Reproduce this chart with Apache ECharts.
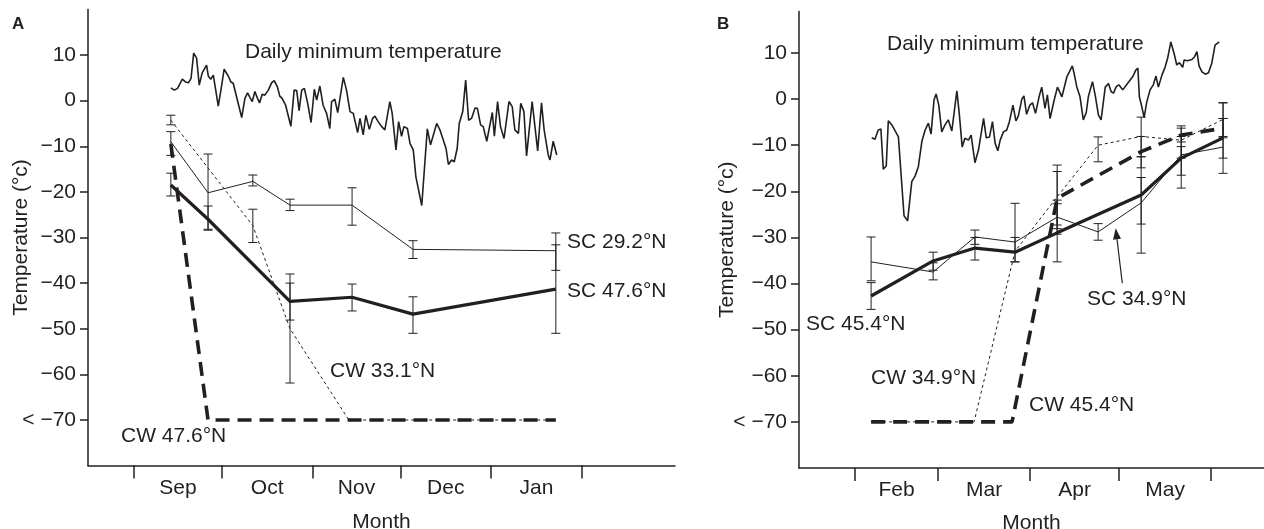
<!DOCTYPE html>
<html>
<head>
<meta charset="utf-8">
<title>Supercooling points</title>
<script src="https://cdn.jsdelivr.net/npm/echarts@6/dist/echarts.min.js"></script>
<style>
  html, body { margin: 0; padding: 0; background: #fff; }
  #chart { width: 1264px; height: 529px; }
</style>
</head>
<body>
<div id="chart"></div>
<script>
// x values are days counted from the first day of the first month on each panel
// panel A: day 0 = 1 Sep, panel B: day 0 = 1 Feb

// ---- panel A (autumn / winter) ----
const monthTicksA = [0, 30, 61, 91, 122, 153];
const monthMidA = [15, 45.5, 76, 106.5, 137.5];
const monthNamesA = ['Sep', 'Oct', 'Nov', 'Dec', 'Jan'];

const dailyMinA = [
  [12.6,2.8],[13.8,2.3],[14.9,2.7],[16.5,4.7],[17.6,4.1],[18.6,3.9],[19.5,4.9],[20.4,10.4],[21.4,9.3],
  [22.3,3.4],[23.3,6.1],[24.8,7.8],[25.4,5.4],[26.2,4.7],[27.1,5.6],[28.8,-1.2],[29.7,2.3],[30.8,6.9],
  [32.2,5.4],[33.1,4.1],[33.9,3.8],[36.8,-3.7],[37.9,0.5],[38.8,1.7],[39.6,0.7],[40.4,-0.2],[41.3,2.0],
  [42.2,0.5],[42.9,-0.5],[43.8,1.4],[44.7,1.2],[45.9,2.3],[47.0,3.9],[47.9,4.4],[49.0,3.0],[49.8,1.0],
  [50.6,0.5],[51.8,-1.0],[53.6,-5.6],[54.7,2.3],[55.6,2.2],[56.4,-2.2],[57.3,2.3],[58.2,2.7],[59.3,-0.5],
  [60.5,-4.8],[61.6,2.5],[62.4,0.1],[63.5,3.2],[64.6,-1.0],[65.8,-2.8],[66.9,-6.1],[67.5,-0.2],[68.6,0.3],
  [69.6,-2.6],[71.5,5.1],[72.6,2.3],[73.8,-2.4],[74.9,-2.8],[76.4,-7.0],[77.2,-3.9],[78.3,-7.5],[79.2,-3.2],
  [80.4,-6.3],[81.5,-3.9],[82.3,-3.4],[83.4,-4.6],[84.6,-5.7],[85.7,-6.4],[87.4,-0.2],[88.2,-2.8],[89.5,-10.8],
  [90.4,-4.6],[91.4,-7.8],[92.2,-5.7],[93.4,-6.1],[94.3,-9.4],[95.4,-10.8],[96.3,-16.7],[98.3,-23.0],[100.2,-6.2],
  [101.3,-9.7],[103.4,-5.0],[104.5,-6.4],[106.6,-10.5],[107.4,-14.0],[108.5,-13.0],[109.4,-13.4],[110.4,-10.5],
  [111.1,-5.0],[112.3,-2.4],[113.3,4.5],[114.3,-4.3],[115.3,-3.9],[116.5,-1.6],[117.3,-1.7],[118.4,-5.3],
  [119.3,-5.7],[120.5,-8.9],[122.4,-2.6],[123.1,-7.8],[124.2,-0.2],[125.2,-5.7],[126.4,-8.3],[128.1,-0.2],
  [129.2,-1.3],[130.1,-6.4],[131.3,-7.2],[132.1,-0.6],[133.2,-2.4],[134.1,-12.1],[136.0,-0.2],[137.9,-11.0],
  [139.2,-0.5],[140.1,-6.4],[141.5,-11.9],[142.1,-13.0],[143.2,-8.9],[144.4,-11.9]
];

const sampleDaysA = [12.6, 25.3, 40.6, 53.3, 74.5, 95.3, 144.1];
const sc29Temp = [-9.0, -20.2, -17.7, -22.9, -22.9, -32.6, -32.9];
const sc29Lo   = [-12.0, -28.4, -18.7, -24.1, -27.3, -34.6, -37.2];
const sc29Hi   = [-6.8, -11.7, -16.3, -21.6, -19.1, -30.7, -29.0];
const sc47Temp = [-18.5, -26.0, null, -44.0, -43.1, -46.8, -41.3];
const sc47Lo   = [-20.9, -28.2, null, -48.1, -46.1, -51.0, -51.0];
const sc47Hi   = [-15.9, -23.1, null, -40.0, -40.2, -43.0, -31.6];
const cw33Days = [12.6, 40.6, 53.3, 73.4, 144.1];
const cw33Temp = [-4.3, -27.4, -50.0, -70, -70];
const cw33Lo   = [-5.3, -31.1, -61.9, null, null];
const cw33Hi   = [-3.2, -23.8, -38.0, null, null];
const cw47Days = [12.6, 25.3, 144.1];
const cw47Temp = [-9.5, -70, -70];

// ---- panel B (spring) ----
const monthTicksB = [0, 28, 59, 89, 120];
const monthMidB = [14, 43.5, 74, 104.5];
const monthNamesB = ['Feb', 'Mar', 'Apr', 'May'];

const dailyMinB = [
  [5.6,-8.4],[6.7,-8.7],[7.8,-6.7],[8.7,-6.5],[9.5,-15.2],[10.5,-14.5],[11.2,-4.7],[12.4,-5.6],[14.6,-8.2],
  [16.5,-25.3],[17.7,-26.4],[19.1,-17.9],[20.2,-16.7],[21.3,-14.7],[22.5,-9.2],[23.6,-6.7],[24.7,-5.2],
  [25.6,-7.6],[26.6,-0.2],[27.3,1.1],[28.2,-1.3],[29.2,-7.1],[30.3,-5.6],[31.4,-4.5],[32.6,-6.9],[34.3,1.8],
  [35.1,-3.1],[36.1,-10.4],[37.0,-8.5],[38.2,-8.9],[39.1,-7.8],[40.4,-13.8],[41.6,-11.0],[43.3,-4.2],
  [44.2,-8.4],[45.3,-8.2],[46.3,-4.9],[47.2,-9.6],[48.1,-11.2],[48.9,-8.9],[50.0,-7.1],[51.1,-6.7],
  [52.0,-4.9],[53.2,-1.3],[54.2,-4.7],[55.0,-3.7],[56.2,0.0],[56.9,0.7],[57.8,-3.3],[58.9,-1.3],[59.8,-0.8],
  [60.8,-3.1],[62.0,0.5],[62.9,2.6],[64.0,-2.0],[64.8,0.9],[65.7,-4.2],[67.1,-0.2],[68.2,2.6],[69.7,0.5],
  [71.4,4.9],[72.2,5.9],[73.2,7.2],[73.8,5.6],[74.7,2.7],[75.8,0.5],[76.9,-4.5],[77.9,-2.9],[78.6,0.5],
  [80.0,3.8],[80.9,0.9],[82.0,-3.4],[82.9,-4.5],[84.3,2.6],[85.4,3.4],[86.3,1.6],[87.1,1.3],[88.0,2.7],
  [88.9,3.1],[90.2,2.0],[91.8,3.4],[93.6,4.9],[94.6,6.3],[95.3,6.7],[95.8,0.5],[96.6,-1.6],[97.4,-4.0],
  [98.3,-0.6],[99.4,2.0],[100.5,3.1],[101.4,5.0],[102.2,2.6],[103.4,5.2],[104.5,7.0],[105.3,8.8],[106.4,12.4],
  [107.5,9.9],[108.4,7.4],[109.3,7.9],[110.4,6.9],[110.9,8.5],[112.0,8.3],[113.5,8.6],[114.4,9.2],[115.2,10.3],
  [115.9,7.2],[116.9,5.9],[118.0,5.4],[119.1,5.7],[120.2,7.8],[121.3,11.7],[122.7,12.4]
];

const sampleDaysB = [5.4, 26.3, 40.4, 53.9, 68.1, 81.9, 96.4, 109.9, 124.0];
const sc45Temp = [-42.7, -35.1, -32.3, -33.2, -29.0, null, -20.8, -12.8, -8.4];
const sc45Lo   = [-45.6, -37.1, -34.9, -35.3, -35.3, null, -27.1, -16.5, -12.8];
const sc45Hi   = [-39.8, -33.2, -30.0, -30.0, -22.7, null, -17.0, -8.1, -4.2];
const sc34Temp = [-35.3, -37.5, -29.9, -31.0, -25.6, -28.8, -22.5, -12.1, -10.4];
const sc34Lo   = [-39.4, -39.2, -31.5, -35.3, -29.3, -30.6, -33.4, -19.3, -16.1];
const sc34Hi   = [-29.9, -35.5, -28.4, -22.6, -21.9, -27.0, -12.5, -10.3, -0.8];
const cw34Days = [5.4, 40.1, 53.9, 68.1, 81.9, 96.4, 109.9, 124.0];
const cw34Temp = [-70, -70, -33.0, -21.2, -10.0, -8.1, -8.9, -4.4];
const cw34Lo   = [null, null, null, -28.1, -13.6, -12.5, -12.8, -8.1];
const cw34Hi   = [null, null, null, -14.3, -8.2, -3.9, -5.8, -0.8];
const cw45Days = [5.4, 52.9, 68.1, 96.4, 109.9, 124.0];
const cw45Temp = [-70, -70, -21.5, -11.4, -7.8, -6.3];
const cw45Lo   = [null, null, -27.3, -14.9, -9.3, -8.4];
const cw45Hi   = [null, null, -15.7, -8.1, -6.3, -4.2];

const tempTicks = [-70, -60, -50, -40, -30, -20, -10, 0, 10];

// ---------------------------------------------------------------
const INK = '#231f20';
const FONT = "'Liberation Sans', Arial, Helvetica, sans-serif";

function pairs(days, temps) {
  const out = [];
  days.forEach(function (d, i) { if (temps[i] != null) out.push([d, temps[i]]); });
  return out;
}
function bars(days, lo, hi) {
  const out = [];
  days.forEach(function (d, i) { if (lo[i] != null) out.push([d, lo[i], hi[i]]); });
  return out;
}
function minus(v) { return String(v).replace('-', '\u2212'); }

function xAxisFor(idx, min, max, ticks, mids, names, gap) {
  return {
    type: 'value', gridIndex: idx, min: min, max: max,
    name: 'Month', nameLocation: 'middle', nameGap: gap, nameMoveOverlap: false,
    nameTextStyle: { color: INK, fontSize: 21, fontFamily: FONT },
    axisLine: { onZero: false, lineStyle: { color: INK, width: 1.5 } },
    axisTick: { show: true, length: 13, customValues: ticks, lineStyle: { color: INK, width: 1.5 } },
    axisLabel: {
      customValues: mids, margin: 12, color: INK, fontSize: 21, fontFamily: FONT,
      formatter: function (v) { const k = mids.indexOf(v); return k >= 0 ? names[k] : ''; }
    },
    splitLine: { show: false }
  };
}
function yAxisFor(idx, max, gap) {
  return {
    type: 'value', gridIndex: idx, min: -80, max: max, interval: 10,
    name: 'Temperature (\u00b0c)', nameLocation: 'middle', nameGap: gap, nameMoveOverlap: false,
    nameTextStyle: { color: INK, fontSize: 21, fontFamily: FONT },
    axisLine: { show: true, onZero: false, lineStyle: { color: INK, width: 1.5 } },
    axisTick: { show: true, length: 8, customValues: tempTicks, lineStyle: { color: INK, width: 1.5 } },
    axisLabel: {
      customValues: tempTicks, margin: 12, color: INK, fontSize: 21, fontFamily: FONT,
      formatter: function (v) { return v === -70 ? '< \u221270' : minus(v); }
    },
    splitLine: { show: false }
  };
}

function lineSeries(idx, data, width, type) {
  return {
    type: 'line', xAxisIndex: idx, yAxisIndex: idx, data: data,
    symbol: 'none', silent: true, z: 3,
    lineStyle: { color: INK, width: width, type: type || 'solid' }
  };
}
function errorSeries(idx, data) {
  return {
    type: 'custom', xAxisIndex: idx, yAxisIndex: idx, data: data, silent: true, z: 4,
    renderItem: function (params, api) {
      const x = api.value(0);
      const a = api.coord([x, api.value(1)]);
      const b = api.coord([x, api.value(2)]);
      const w = 4.5;
      const st = { stroke: INK, lineWidth: 1 };
      return {
        type: 'group',
        children: [
          { type: 'line', shape: { x1: a[0], y1: a[1], x2: b[0], y2: b[1] }, style: st },
          { type: 'line', shape: { x1: a[0] - w, y1: a[1], x2: a[0] + w, y2: a[1] }, style: st },
          { type: 'line', shape: { x1: b[0] - w, y1: b[1], x2: b[0] + w, y2: b[1] }, style: st }
        ]
      };
    }
  };
}

function label(text, x, y, bold, size) {
  return {
    type: 'text', x: x, y: y, silent: true,
    style: {
      text: text, fill: INK, font: (bold ? 'bold ' : '') + (size || 21) + 'px ' + FONT,
      textAlign: 'left', textVerticalAlign: 'middle'
    }
  };
}
function arrow(tail, tip) {
  const dx = tip[0] - tail[0], dy = tip[1] - tail[1];
  const len = Math.sqrt(dx * dx + dy * dy);
  const ux = dx / len, uy = dy / len;
  const hl = 11, hw = 4;
  const bx = tip[0] - ux * hl, by = tip[1] - uy * hl;
  return [
    { type: 'line', silent: true, shape: { x1: tail[0], y1: tail[1], x2: bx, y2: by }, style: { stroke: INK, lineWidth: 1.2 } },
    { type: 'polygon', silent: true, shape: { points: [tip, [bx - uy * hw, by + ux * hw], [bx + uy * hw, by - ux * hw]] }, style: { fill: INK } }
  ];
}

const chart = echarts.init(document.getElementById('chart'));
chart.setOption({
  animation: false,
  backgroundColor: '#fff',
  textStyle: { fontFamily: FONT },
  grid: [
    { left: 88, top: 9.4, width: 587, height: 456.2, outerBoundsMode: 'none', containLabel: false },
    { left: 799, top: 11.5, width: 465, height: 456.5, outerBoundsMode: 'none', containLabel: false }
  ],
  xAxis: [
    xAxisFor(0, -15.7, 184.8, monthTicksA, monthMidA, monthNamesA, 46),
    xAxisFor(1, -18.9, 137.8, monthTicksB, monthMidB, monthNamesB, 45)
  ],
  yAxis: [
    yAxisFor(0, 20, 56),
    yAxisFor(1, 19, 61)
  ],
  series: [
    lineSeries(0, dailyMinA, 1.6),
    lineSeries(0, pairs(sampleDaysA, sc29Temp), 1),
    lineSeries(0, pairs(sampleDaysA, sc47Temp), 3.2),
    lineSeries(0, pairs(cw33Days, cw33Temp), 1, [3, 3]),
    lineSeries(0, pairs(cw47Days, cw47Temp), 3.6, [14, 8]),
    errorSeries(0, bars(sampleDaysA, sc29Lo, sc29Hi)
      .concat(bars(sampleDaysA, sc47Lo, sc47Hi))
      .concat(bars(cw33Days, cw33Lo, cw33Hi))),

    lineSeries(1, dailyMinB, 1.6),
    lineSeries(1, pairs(sampleDaysB, sc34Temp), 1),
    lineSeries(1, pairs(sampleDaysB, sc45Temp), 3.2),
    lineSeries(1, pairs(cw34Days, cw34Temp), 1, [3, 3]),
    lineSeries(1, pairs(cw45Days, cw45Temp), 3.6, [14, 8]),
    errorSeries(1, bars(sampleDaysB, sc45Lo, sc45Hi)
      .concat(bars(sampleDaysB, sc34Lo, sc34Hi))
      .concat(bars(cw34Days, cw34Lo, cw34Hi))
      .concat(bars(cw45Days, cw45Lo, cw45Hi)))
  ],
  graphic: [
    label('A', 12, 24, true, 17),
    label('B', 717, 24, true, 17),
    label('Daily minimum temperature', 245, 52),
    label('SC 29.2\u00b0N', 567, 242),
    label('SC 47.6\u00b0N', 567, 291),
    label('CW 33.1\u00b0N', 330, 371),
    label('CW 47.6\u00b0N', 121, 436),
    label('Daily minimum temperature', 887, 44),
    label('SC 45.4\u00b0N', 806, 324),
    label('CW 34.9\u00b0N', 871, 378),
    label('CW 45.4\u00b0N', 1029, 405),
    label('SC 34.9\u00b0N', 1087, 299)
  ].concat(arrow([1122.3, 283.3], [1115.7, 228.3]))
});
</script>
</body>
</html>
